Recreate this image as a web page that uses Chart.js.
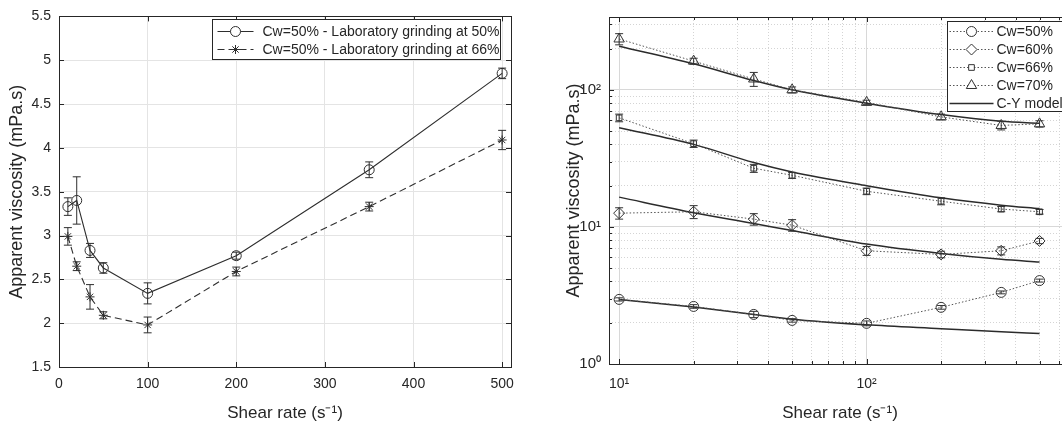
<!DOCTYPE html>
<html>
<head>
<meta charset="utf-8">
<script src="https://cdn.jsdelivr.net/npm/chart.js@4.4.1/dist/chart.umd.min.js"></script>
<style>
  html, body { margin: 0; padding: 0; background: #fff; overflow: hidden; width: 1062px; height: 424px; }
  #left { position: absolute; left: 0; top: 0; }
  #right { position: absolute; left: 530px; top: 0; }
</style>
</head>
<body>
<canvas id="left" width="530" height="424"></canvas>
<canvas id="right" width="548" height="424"></canvas>
<script>
const shearRate = [10, 20, 35, 50, 100, 200, 350, 500];

// left plot - Cw=50%, laboratory grinding
const grind50 = [3.33, 3.40, 2.83, 2.63, 2.34, 2.77, 3.75, 4.85];
const grind50Err = [0.10, 0.27, 0.08, 0.06, 0.12, 0.04, 0.09, 0.06];
const grind66 = [2.99, 2.65, 2.30, 2.09, 1.98, 2.59, 3.33, 4.09];
const grind66Err = [0.10, 0.05, 0.14, 0.04, 0.09, 0.05, 0.05, 0.11];

const leftXTicks = [0, 100, 200, 300, 400, 500];
const leftYTicks = [1.5, 2, 2.5, 3, 3.5, 4, 4.5, 5, 5.5];

// right plot - measured viscosity per Cw
const cw50 = [2.96, 2.63, 2.30, 2.08, 1.98, 2.59, 3.33, 4.06];
const cw50Err = [0.08, 0.08, 0.12, 0.06, 0.08, 0.08, 0.08, 0.1];
const cw60 = [12.6, 12.9, 11.4, 10.3, 6.7, 6.3, 6.7, 7.9];
const cw60Err = [1.2, 1.4, 1.1, 1.0, 0.5, 0.35, 0.45, 0.35];
const cw66 = [62.5, 40.5, 26.8, 23.8, 18.2, 15.4, 13.5, 12.9];
const cw66Err = [4, 2.5, 1.8, 1.2, 1.0, 0.9, 0.6, 0.5];
const cw70 = [235, 162, 120, 100, 81, 63.5, 55, 56.5];
const cw70Err = [22, 8, 14, 5, 3, 3, 4, 3];

// C-Y model curves
const cy50 = [2.96, 2.60, 2.30, 2.12, 1.93, 1.81, 1.72, 1.67];
const cy60 = [16.5, 12.7, 10.6, 9.4, 7.5, 6.4, 5.8, 5.55];
const cy66 = [53, 40, 29.5, 25.2, 20, 16.3, 14.4, 13.6];
const cy70 = [208, 155, 117, 100, 80, 66, 59, 57];

const logXTicks = [10, 20, 30, 40, 50, 60, 70, 80, 90, 100, 200, 300, 400, 500, 600];
const logYTicks = [1, 2, 3, 4, 5, 6, 7, 8, 9, 10, 20, 30, 40, 50, 60, 70, 80, 90, 100, 200, 300];

const ink = '#262626';
const font = 'Liberation Sans, Arial, sans-serif';
const sup = ['\u2070', '\u00b9', '\u00b2', '\u00b3'];

const pts = ys => ys.map((y, i) => ({x: shearRate[i], y}));
const isPow10 = v => Math.abs(Math.log10(v) - Math.round(Math.log10(v))) < 1e-9;

const errorBars = {
    id: 'errorBars',
    afterDatasetsDraw(chart) {
        const {ctx} = chart;
        const xs = chart.scales.x, ys = chart.scales.y;
        chart.data.datasets.forEach(ds => {
            if (!ds.errors) return;
            ctx.save();
            ctx.strokeStyle = ds.pointBorderColor || ink;
            ctx.lineWidth = 1;
            ds.data.forEach((p, j) => {
                const e = ds.errors[j];
                const px = xs.getPixelForValue(p.x);
                const top = ys.getPixelForValue(p.y + e);
                const bot = ys.getPixelForValue(p.y - e);
                ctx.beginPath();
                ctx.moveTo(px, top); ctx.lineTo(px, bot);
                ctx.moveTo(px - 4, top); ctx.lineTo(px + 4, top);
                ctx.moveTo(px - 4, bot); ctx.lineTo(px + 4, bot);
                ctx.stroke();
            });
            ctx.restore();
        });
    }
};

const frame = {
    id: 'frame',
    afterDraw(chart, args, opts) {
        const {ctx, chartArea: a} = chart;
        ctx.save();
        ctx.strokeStyle = ink;
        ctx.lineWidth = 1;
        ctx.beginPath();
        chart.scales.x.ticks.forEach(t => {
            const px = Math.round(chart.scales.x.getPixelForValue(t.value)) + 0.5;
            const len = (!opts.log || isPow10(t.value)) ? 5 : 3;
            ctx.moveTo(px, a.bottom); ctx.lineTo(px, a.bottom - len);
            ctx.moveTo(px, a.top); ctx.lineTo(px, a.top + len);
        });
        chart.scales.y.ticks.forEach(t => {
            const py = Math.round(chart.scales.y.getPixelForValue(t.value)) + 0.5;
            const len = (!opts.log || isPow10(t.value)) ? 5 : 3;
            ctx.moveTo(a.left, py); ctx.lineTo(a.left + len, py);
            ctx.moveTo(a.right, py); ctx.lineTo(a.right - len, py);
        });
        ctx.stroke();
        ctx.strokeRect(Math.round(a.left) + 0.5, Math.round(a.top) + 0.5,
            Math.round(a.right - a.left), Math.round(a.bottom - a.top));
        ctx.restore();
    }
};

const boxLegend = {
    id: 'boxLegend',
    afterDraw(chart, args, o) {
        const {ctx, chartArea: a} = chart;
        const bx = Math.round(a.right - o.marginRight - o.width) + 0.5;
        const by = Math.round(a.top + o.marginTop) + 0.5;
        ctx.save();
        ctx.fillStyle = '#fff';
        ctx.fillRect(bx, by, o.width, o.height);
        ctx.strokeStyle = ink;
        ctx.lineWidth = 1;
        ctx.strokeRect(bx, by, o.width, o.height);
        ctx.font = o.fontSize + 'px ' + font;
        ctx.textBaseline = 'middle';
        o.indices.forEach((di, k) => {
            const ds = chart.data.datasets[di];
            const y = by + o.rowStart + k * o.rowGap;
            ctx.strokeStyle = ds.borderColor;
            ctx.lineWidth = ds.borderWidth || 1;
            ctx.setLineDash(ds.borderDash || []);
            ctx.beginPath();
            ctx.moveTo(bx + o.line0, y); ctx.lineTo(bx + o.line1, y);
            ctx.stroke();
            ctx.setLineDash([]);
            if (ds.pointRadius > 0) {
                ctx.strokeStyle = ds.pointBorderColor;
                ctx.fillStyle = '#fff';
                ctx.lineWidth = 1;
                Chart.helpers.drawPoint(ctx, {
                    pointStyle: ds.pointStyle, radius: ds.pointRadius, rotation: 0, borderWidth: 1
                }, bx + (o.line0 + o.line1) / 2, y);
            }
            ctx.fillStyle = ink;
            ctx.fillText(ds.label, bx + o.textX, y + 1);
        });
        ctx.restore();
    }
};

const tickFont = {family: font, size: 14};
const xTitleFont = {family: font, size: 17};
const yTitleFont = {family: font, size: 18};

// left chart
new Chart(document.getElementById('left').getContext('2d'), {
    type: 'line',
    data: {
        datasets: [{
            label: 'Cw=50% - Laboratory grinding at 50%',
            data: pts(grind50),
            errors: grind50Err,
            borderColor: '#2e2e2e',
            borderWidth: 1.1,
            pointStyle: 'circle',
            pointRadius: 5,
            pointBorderColor: '#2e2e2e',
            pointBackgroundColor: 'rgba(0,0,0,0)',
            pointBorderWidth: 1,
        }, {
            label: 'Cw=50% - Laboratory grinding at 66%',
            data: pts(grind66),
            errors: grind66Err,
            borderColor: '#2e2e2e',
            borderWidth: 1.1,
            borderDash: [7, 4],
            pointStyle: 'star',
            pointRadius: 4.5,
            pointBorderColor: '#2e2e2e',
            pointBackgroundColor: 'rgba(0,0,0,0)',
            pointBorderWidth: 1,
        }]
    },
    options: {
        responsive: false,
        animation: false,
        layout: {padding: {top: 14, right: 19, left: 0, bottom: 0}},
        plugins: {
            legend: {display: false},
            tooltip: {enabled: false},
            frame: {log: false},
            boxLegend: {
                indices: [0, 1], marginRight: 11, marginTop: 3, width: 288, height: 40, fontSize: 14,
                rowStart: 12, rowGap: 18, line0: 5, line1: 41, textX: 50
            }
        },
        scales: {
            x: {
                type: 'linear',
                min: 0,
                max: 510,
                afterBuildTicks: s => { s.ticks = leftXTicks.map(v => ({value: v})); },
                afterFit: s => { s.height = 57; },
                ticks: {font: tickFont, color: ink, padding: 9, maxRotation: 0, autoSkip: false, callback: v => String(v)},
                grid: {color: '#e4e4e4', drawTicks: false},
                border: {display: false},
                title: {display: true, text: 'Shear rate (s\u207b\u00b9)', font: xTitleFont, color: ink, padding: {top: 0, bottom: 0}}
            },
            y: {
                type: 'linear',
                min: 1.5,
                max: 5.5,
                afterBuildTicks: s => { s.ticks = leftYTicks.map(v => ({value: v})); },
                afterFit: s => { s.width = 59; },
                ticks: {font: tickFont, color: ink, padding: 8, autoSkip: false, callback: v => String(v)},
                grid: {color: '#e4e4e4', drawTicks: false},
                border: {display: false},
                title: {display: true, text: 'Apparent viscosity (mPa.s)', font: yTitleFont, color: ink, padding: {top: 6, bottom: 0}}
            }
        }
    },
    plugins: [errorBars, frame, boxLegend]
});

// right chart
const measured = (label, data, errors, style, radius) => ({
    label, data: pts(data), errors,
    borderColor: '#555',
    borderWidth: 1,
    borderDash: [1.5, 2],
    pointStyle: style,
    pointRadius: radius,
    pointBorderColor: '#333',
    pointBackgroundColor: 'rgba(0,0,0,0)',
    pointBorderWidth: 1,
});
const model = data => ({
    label: 'C-Y model',
    data: pts(data),
    borderColor: '#2b2b2b',
    borderWidth: 1.5,
    pointRadius: 0,
    cubicInterpolationMode: 'monotone',
});

new Chart(document.getElementById('right').getContext('2d'), {
    type: 'line',
    data: {
        datasets: [
            measured('Cw=50%', cw50, cw50Err, 'circle', 5),
            measured('Cw=60%', cw60, cw60Err, 'rectRot', 5.5),
            measured('Cw=66%', cw66, cw66Err, 'rect', 4),
            measured('Cw=70%', cw70, cw70Err, 'triangle', 6),
            model(cy70), model(cy66), model(cy60), model(cy50)
        ]
    },
    options: {
        responsive: false,
        animation: false,
        layout: {padding: {top: 14, right: 6, left: 0, bottom: 0}},
        plugins: {
            legend: {display: false},
            tooltip: {enabled: false},
            frame: {log: true},
            boxLegend: {
                indices: [0, 1, 2, 3, 4], marginRight: 8, marginTop: 4, width: 116, height: 90, fontSize: 14,
                rowStart: 10, rowGap: 18, line0: 2, line1: 46, textX: 49
            }
        },
        scales: {
            x: {
                type: 'logarithmic',
                min: 9.1,
                max: 670,
                afterBuildTicks: s => { s.ticks = logXTicks.map(v => ({value: v})); },
                afterFit: s => { s.height = 60; },
                ticks: {
                    font: tickFont, color: ink, padding: 12, maxRotation: 0, autoSkip: false,
                    callback: v => isPow10(v) ? '10' + sup[Math.round(Math.log10(v))] : ''
                },
                grid: {color: ctx => ctx.tick && isPow10(ctx.tick.value) ? '#d8d8d8' : '#d4d4d4', drawTicks: false},
                border: {display: false, dash: ctx => ctx.tick && !isPow10(ctx.tick.value) ? [1, 2] : []},
                title: {display: true, text: 'Shear rate (s\u207b\u00b9)', font: xTitleFont, color: ink, padding: {top: 0, bottom: 0}}
            },
            y: {
                type: 'logarithmic',
                min: 1,
                max: 340,
                afterBuildTicks: s => { s.ticks = logYTicks.map(v => ({value: v})); },
                afterFit: s => { s.width = 79; },
                ticks: {
                    font: {family: font, size: 15}, color: ink, padding: 8, autoSkip: false,
                    callback: v => isPow10(v) ? '10' + sup[Math.round(Math.log10(v))] : ''
                },
                grid: {color: ctx => ctx.tick && isPow10(ctx.tick.value) ? '#d8d8d8' : '#d4d4d4', drawTicks: false},
                border: {display: false, dash: ctx => ctx.tick && !isPow10(ctx.tick.value) ? [1, 2] : []},
                title: {display: true, text: 'Apparent viscosity (mPa.s)', font: yTitleFont, color: ink, padding: {top: 33, bottom: 0}}
            }
        }
    },
    plugins: [errorBars, frame, boxLegend]
});
</script>
</body>
</html>
